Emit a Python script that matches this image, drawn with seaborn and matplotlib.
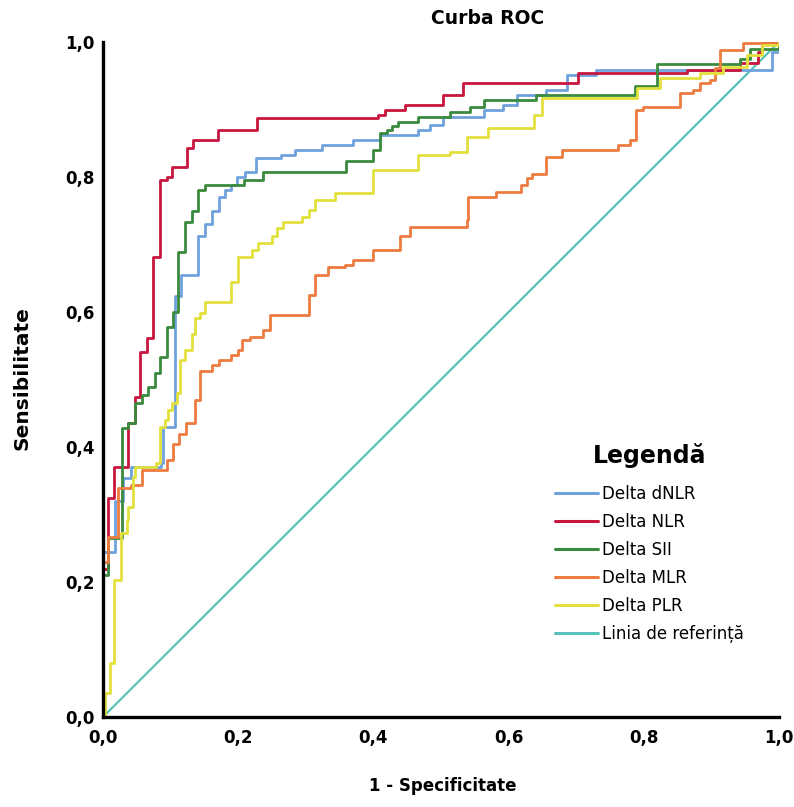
import numpy as np
import pandas as pd
import matplotlib
matplotlib.use("Agg")
import matplotlib.pyplot as plt
import seaborn as sns
from matplotlib.lines import Line2D

# ---- data ----
labels = ["Delta dNLR", "Delta NLR", "Delta SII", "Delta MLR", "Delta PLR", "Linia de referință"]
colors = ["#6FA1DD", "#C8163F", "#3A8A3D", "#EE7B3F", "#E2E03C", "#56C2B8"]

dnlr_fpr = [0, 0, 0.018, 0.030, 0.041, 0.086, 0.089, 0.106, 0.116, 0.141, 0.151, 0.161, 0.171, 0.180, 0.190, 0.198,
            0.210, 0.227, 0.264, 0.284, 0.324, 0.370, 0.410, 0.466, 0.484, 0.503, 0.563, 0.592, 0.612, 0.656,
            0.686, 0.730, 0.990, 1.0]
dnlr_tpr = [0, 0.245, 0.320, 0.354, 0.370, 0.376, 0.430, 0.623, 0.655, 0.712, 0.731, 0.749, 0.771, 0.781, 0.788, 0.800,
            0.808, 0.828, 0.833, 0.840, 0.847, 0.855, 0.862, 0.870, 0.877, 0.889, 0.899, 0.907, 0.921, 0.929,
            0.951, 0.959, 0.985, 1.0]

nlr_fpr = [0, 0, 0.007, 0.017, 0.037, 0.047, 0.055, 0.065, 0.074, 0.084, 0.095, 0.102, 0.124, 0.133, 0.170, 0.228,
           0.407, 0.417, 0.447, 0.503, 0.533, 0.703, 0.864, 0.942, 0.969, 0.975, 1.0]
nlr_tpr = [0, 0.220, 0.324, 0.370, 0.436, 0.474, 0.541, 0.561, 0.681, 0.796, 0.800, 0.815, 0.843, 0.855, 0.870, 0.887,
           0.892, 0.899, 0.907, 0.921, 0.939, 0.954, 0.959, 0.969, 0.985, 0.998, 1.0]

sii_fpr = [0, 0, 0.007, 0.028, 0.037, 0.047, 0.057, 0.067, 0.077, 0.084, 0.094, 0.104, 0.111, 0.121, 0.131, 0.141,
           0.151, 0.208, 0.237, 0.360, 0.400, 0.410, 0.420, 0.427, 0.437, 0.466, 0.513, 0.543, 0.563, 0.641,
           0.787, 0.820, 0.942, 0.957, 1.0]
sii_tpr = [0, 0.210, 0.265, 0.428, 0.435, 0.465, 0.477, 0.489, 0.509, 0.534, 0.578, 0.600, 0.689, 0.734, 0.749, 0.781,
           0.788, 0.796, 0.808, 0.823, 0.840, 0.865, 0.870, 0.875, 0.882, 0.889, 0.897, 0.904, 0.914, 0.921,
           0.935, 0.968, 0.975, 0.990, 1.0]

mlr_fpr = [0, 0, 0.007, 0.022, 0.042, 0.057, 0.094, 0.104, 0.113, 0.123, 0.136, 0.143, 0.161, 0.171, 0.190, 0.200,
           0.205, 0.217, 0.237, 0.247, 0.304, 0.314, 0.333, 0.358, 0.370, 0.400, 0.439, 0.454, 0.538, 0.540,
           0.582, 0.619, 0.627, 0.634, 0.656, 0.679, 0.762, 0.780, 0.789, 0.799, 0.854, 0.873, 0.883, 0.898,
           0.905, 0.913, 0.947, 1.0]
mlr_tpr = [0, 0.230, 0.267, 0.339, 0.344, 0.366, 0.381, 0.405, 0.420, 0.435, 0.470, 0.512, 0.521, 0.529, 0.536, 0.544,
           0.559, 0.563, 0.573, 0.596, 0.625, 0.655, 0.667, 0.670, 0.677, 0.692, 0.712, 0.726, 0.736, 0.771,
           0.778, 0.788, 0.798, 0.805, 0.830, 0.840, 0.847, 0.855, 0.899, 0.904, 0.924, 0.929, 0.939, 0.944,
           0.961, 0.988, 0.998, 1.0]

plr_fpr = [0, 0, 0.0025, 0.010, 0.017, 0.027, 0.035, 0.037, 0.044, 0.047, 0.079, 0.084, 0.091, 0.096, 0.102, 0.109,
           0.114, 0.121, 0.131, 0.136, 0.143, 0.151, 0.190, 0.200, 0.220, 0.230, 0.250, 0.257, 0.267, 0.294,
           0.304, 0.314, 0.343, 0.400, 0.466, 0.513, 0.538, 0.570, 0.637, 0.649, 0.790, 0.824, 0.883, 0.917,
           0.953, 0.975, 1.0]
plr_tpr = [0, 0, 0.035, 0.080, 0.203, 0.272, 0.292, 0.311, 0.356, 0.371, 0.376, 0.430, 0.440, 0.455, 0.465, 0.480,
           0.529, 0.544, 0.568, 0.591, 0.598, 0.615, 0.645, 0.682, 0.692, 0.702, 0.712, 0.724, 0.734, 0.741,
           0.751, 0.766, 0.776, 0.810, 0.833, 0.837, 0.860, 0.872, 0.892, 0.917, 0.932, 0.947, 0.954, 0.963,
           0.981, 0.995, 1.0]

ref_fpr = [0.0, 1.0]
ref_tpr = [0.0, 1.0]

xticks = [0.0, 0.2, 0.4, 0.6, 0.8, 1.0]
ticklabels = ["0,0", "0,2", "0,4", "0,6", "0,8", "1,0"]

# ---- build a long table ----
curves = [(labels[0], dnlr_fpr, dnlr_tpr), (labels[1], nlr_fpr, nlr_tpr), (labels[2], sii_fpr, sii_tpr),
          (labels[3], mlr_fpr, mlr_tpr), (labels[4], plr_fpr, plr_tpr)]
df = pd.concat([pd.DataFrame({"fpr": f, "tpr": t, "curve": n}) for n, f, t in curves], ignore_index=True)
ref = pd.DataFrame({"fpr": ref_fpr, "tpr": ref_tpr})

sns.set_style("white")
plt.rcParams["font.family"] = ["DejaVu Sans"]
for k in ["text.color", "axes.labelcolor", "xtick.color", "ytick.color"]:
    plt.rcParams[k] = "black"

fig = plt.figure(figsize=(7.94, 8.07), dpi=100)
ax = fig.add_axes([103 / 794, 1 - 717 / 807, 676 / 794, 675 / 807])

sns.lineplot(data=ref, x="fpr", y="tpr", ax=ax, color=colors[5], lw=1.6, estimator=None, sort=False, legend=False)
pal = dict(zip(labels[:5], colors[:5]))
for name in labels[:5]:
    sns.lineplot(data=df[df["curve"] == name], x="fpr", y="tpr", ax=ax, color=pal[name], lw=2.0,
                 estimator=None, sort=False, drawstyle="steps-post", legend=False)

ax.set_xlim(0, 1)
ax.set_ylim(0, 1)
ax.set_xticks(xticks)
ax.set_xticklabels(ticklabels)
ax.set_yticks(xticks)
ax.set_yticklabels(ticklabels)
ax.tick_params(length=0, labelsize=12)
ax.tick_params(axis="x", pad=9)
ax.tick_params(axis="y", pad=6)
for lab in ax.get_xticklabels() + ax.get_yticklabels():
    lab.set_fontweight("bold")
for s in ["top", "right"]:
    ax.spines[s].set_visible(False)
for s in ["left", "bottom"]:
    ax.spines[s].set_color("black")
    ax.spines[s].set_linewidth(2.4)
ax.set_xlabel("")
ax.set_ylabel("")

fig.text(443 / 794, 1 - 786 / 807, "1 - Specificitate", ha="center", va="center", fontsize=12, fontweight="bold")
fig.text(22 / 794, 1 - 378 / 807, "Sensibilitate", ha="center", va="center", rotation=90, fontsize=14.5,
         fontweight="bold")
fig.text(488 / 794, 1 - 18 / 807, "Curba ROC", ha="center", va="center", fontsize=13.5, fontweight="bold")

handles = [Line2D([0], [0], color=c, lw=2.2) for c in colors]
leg = ax.legend(handles, labels, title="Legendă", loc="upper left",
                bbox_to_anchor=(555 / 794, 1 - 443 / 807), bbox_transform=fig.transFigure,
                frameon=False, fontsize=12, handlelength=2.6, handletextpad=0.25, labelspacing=0.6,
                borderpad=0, borderaxespad=0)
leg.get_title().set_fontsize(17)
leg.get_title().set_fontweight("bold")
leg._legend_box.sep = 12

fig.savefig("out.png", dpi=100)
